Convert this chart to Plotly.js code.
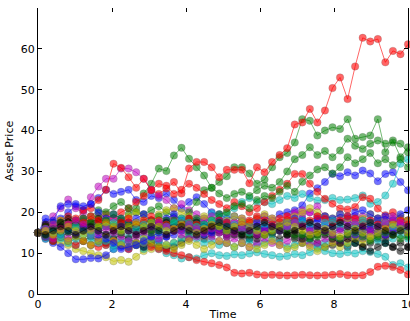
<!DOCTYPE html>
<html>
<head>
<meta charset="utf-8">
<script src="https://cdn.plot.ly/plotly-3.0.1.min.js"></script>
<style>html,body{margin:0;padding:0;background:#fff;overflow:hidden;}#chart{width:410px;height:321px;}</style>
</head>
<body>
<div id="chart"></div>
<script>
// Time grid (50 samples from 0 to 10)
const time = [0, 0.2041, 0.4082, 0.6122, 0.8163, 1.0204, 1.2245, 1.4286, 1.6327, 1.8367,
  2.0408, 2.2449, 2.4490, 2.6531, 2.8571, 3.0612, 3.2653, 3.4694, 3.6735, 3.8776,
  4.0816, 4.2857, 4.4898, 4.6939, 4.8980, 5.1020, 5.3061, 5.5102, 5.7143, 5.9184,
  6.1224, 6.3265, 6.5306, 6.7347, 6.9388, 7.1429, 7.3469, 7.5510, 7.7551, 7.9592,
  8.1633, 8.3673, 8.5714, 8.7755, 8.9796, 9.1837, 9.3878, 9.5918, 9.7959, 10];

const xTicks = [0, 2, 4, 6, 8, 10];
const yTicks = [0, 10, 20, 30, 40, 50, 60];

// Blue paths
const pathB1 = [15,17.5,16.5,18.5,20,21.5,20.5,22,23.5,25.5, 24.5,25,25.5,23,22.5,24,23.5,24.6,23,20.9, 22.5,23.7,22,20,19.5,18.5,19,18,17.5,18.5, 19,18,19.5,20,20.5,21.7,24.6,25.9,27.4,29.4, 28.8,29.8,29,30.2,29.5,27.6,29.4,29.8,27.4,25.4];
const pathB2 = [15,13.5,12.5,11.5,10,8.5,8.5,8.8,8.7,9.5, 11,11.5,11,12,11.5,12.5,13,14,14.5,15.5, 16,17,16.5,17.5,18,17,16,16.5,15.5,16, 17,16.5,17.5,18,17,18.5,17.5,18,17,16.5, 17.5,18,17,16,17,18,17.5,16.5,17,18];
const pathB3 = [15,18.5,18,21.5,22,22,21.5,22,20,18.5, 19.5,18.5,17.5,18.5,19.5,18,17,18.5,19.5,18, 17,18,16.5,17,18,17.5,16,15.5,16.5,15.5, 16,15,16.5,17.5,18.5,18,17,18.5,19,18.5, 19.5,19,20,20.5,19.5,18.5,19,18,19.5,20.5];
const pathB4 = [15,14,15.5,14.5,16,15,16.5,15.5,14.5,13.5, 12.5,11,11.5,12,13,14,15,14,15.5,16.5, 16,15.5,14.5,15,16,15.5,16,17,16.5,17.5, 16.5,16,15.5,16.5,17.5,17,16,16.5,15.5,15, 16,15,14.5,15.5,16,15,14.5,15,16,15.5];

// Green paths
const pathG1 = [15,16,15,16.5,17.5,17,18.5,17.5,19,18, 17,18,19.5,21,24.6,27,30.7,30.1,33.9,35.8, 33.1,31,29,26,27.4,28.8,31,31,29.5,27, 28,31,33.5,34.5,37.1,42.8,42.4,38.8,40,40.8, 40.4,42.8,38,38.4,38.8,42.8,34.7,37.6,33.5,35.9];
const pathG2 = [15,14,15.5,16.5,15.5,17,18,19,20.5,20, 21.5,22.5,21,20,19.5,20.5,21.5,20,19,18.5, 20,22.5,25.4,26,24.6,23.5,24.5,25,24,25.4, 26.5,26,27.4,30,33,34,35.9,34,35,33.5, 35.1,38,36.3,35.5,36.8,37.6,36.8,37.1,36.8,34.7];
const pathG3 = [15,16.5,16,17.5,16.5,18,17,15.5,16.5,18, 19.5,18.5,17,16.5,17.5,18,19,18,17.5,16.5, 17.5,18.5,17,18,19.5,20,21.5,22,21,23, 24,23.5,25,26.5,25,27.5,29,30.5,31,29.5, 31,33.5,32,33,34.5,32,33,31.5,33,31];
const pathG4 = [15,14.5,16,15,16.5,17.5,18.5,17.5,16.5,17, 16,15,16,17,16,15,16,17,18,17.5, 18,17,16,17,16.5,15.5,16,15,14.5,15.5, 14.5,15,16,15,14,14.5,13.5,14,15,14, 13.5,14.5,15,14,13,14,15,14.5,13.5,14];

// Red paths
const pathR1 = [15,16,14.5,16.5,17.5,17,16,17.5,18,19.5, 18.5,20,21,22.5,24,25.5,24.5,25.8,27.4,24.6, 30.7,32.3,32.3,31,28.6,30.4,30.4,30.4,27.1,31, 29.8,32.3,34,35.7,41.5,42,45.3,42,44.9,50.4, 53,47.7,55.7,62.7,61.8,62.4,56.7,59.5,58.7,61.1];
const pathR2 = [15,16.5,16,18,19,18,20.5,21,23,25.5, 31.9,30.9,28.6,26,28.2,25.4,27,26.5,24.5,25.5, 27,26,24.5,23,22,21,22.5,21.5,20,21, 22.5,24,25.5,27,29.4,29.4,27,25,23.3,22.1, 20.9,20.7,21.3,23.7,23.3,20.9,19.3,20,18.5,18];
const pathR3 = [15,14,13,14,13,12,13,12,11.5,12, 13,12,11,12,12.5,11.5,11,10.5,10,9.5, 9,8.3,7.9,7.5,7.1,6.5,5.2,5,5.2,4.8, 4.6,4.7,4.6,4.5,4.6,4.7,4.6,4.5,4.6,4.7, 4.9,4.6,4.5,4.6,5.4,6.7,6.9,6.6,5.9,4.8];
const pathR4 = [15,15.5,14.5,16,17,18.5,17.5,19,18,17, 16,17.5,18.5,17,18,19,18,17,16,17.5, 18.5,17,16,17,18,17.5,16.5,17,18,19, 18,17,18.5,19,18,17,18,19,18.5,17.5, 18,19,18.5,17.5,18,17,16.5,17.5,18,17];

// Cyan paths
const pathC1 = [15,14.5,15.5,16.5,15.5,14.5,15.5,16.5,15.5,14.5, 14,13,14,15,14,13.5,14.5,15.5,16.5,15.5, 16.5,17.5,18.5,19.7,19,19.5,21,22.5,23.5,22.5, 22.5,22,23,24,23.5,24.5,23.5,22.9,23,23.5, 23,23.1,23.5,24.1,22.1,22.5,24.1,27,31.9,33];
const pathC2 = [15,14,13,14,13,12,13,12,13,12, 11,12,13,12,11,12,11,10,9.5,8.7, 9,8.7,9.5,10,9.5,9.3,9.7,9.5,9.9,10.2, 9.8,9.5,9.1,9.3,9.8,9.5,10.2,11.1,10.5,10, 9.8,10.2,9.9,10.5,10.3,9.8,9.1,7.1,7.5,6.5];
const pathC3 = [15,13.5,14.5,13.5,12.5,13.5,14.5,13.5,12.5,13, 12,12.5,13,12,12.5,13.5,13,12,12.5,13.5, 14.5,13.5,12.5,13,12,12.5,11.5,12.5,13,12, 12.5,13.5,12.5,11.5,12,13,12.5,11.5,12.5,13.5, 13,12,12.5,13.5,14,13,12.5,13.5,14.5,13.5];
const pathC4 = [15,16,15,14,15.5,16.5,15.5,14.5,15.5,16.5, 17.5,16.5,15.5,16,17,16.5,15.5,16.5,17.5,18.5, 17.5,16.5,17,18,17.5,16.5,17,16,15,16, 17,16,15.5,16.5,17.5,18,17,16.5,17.5,18, 17,16,17,18,17.5,16.5,17.5,16.5,15.5,16];

// Magenta paths
const pathM1 = [15,17,19,21,23.1,21,20,23.7,26.3,28.2, 28.2,30.7,30.7,29.8,28.2,25.5,24,23,21,22, 20.5,19.5,18.5,19,18,17,17.5,18.5,17.5,18, 19,18,17,18,19.5,20.5,20,21.5,19,18, 17.5,18.5,19,18,17.5,18.5,17,16,17,18];
const pathM2 = [15,15.5,16.5,17.5,16.5,17.5,18.5,17.5,16.5,17.5, 18.5,17.5,16.5,17.5,16.5,15.5,16.5,17.5,18.5,17.5, 16.5,17,18,17,16,16.5,17.5,16.5,15.5,16.5, 17.5,18.5,17.5,19,20,19.5,20,19,18,17.5, 18.5,17.5,18.5,19,18,17,18,19,18.5,17.5];
const pathM3 = [15,14,13.5,14.5,13.5,14.5,15.5,14.5,13.5,14.5, 15,14,13,14,15,14,13.5,14.5,15.5,14.5, 13.5,14,15,14,13,12.5,13.5,12.5,11.5,12.5, 13.5,12.5,12,13,14,13,12,12.5,13.5,13, 12.5,13.5,14.5,13.5,14.5,15.5,14.5,15.5,16.5,15.5];
const pathM4 = [15,16,17,16,17,18,17,16,15,16, 15.5,16.5,15.5,14.5,15.5,16.5,17.5,16.5,15.5,16, 17,16,15,16,15,14,15,16,15.5,14.5, 15.5,16.5,15.5,16.5,17.5,16.5,15.5,16.5,15.5,14.5, 15.5,16.5,17.5,16.5,15.5,16.5,17.5,18.5,17.5,16.5];

// Yellow paths
const pathY1 = [15,14,13,12.5,12,11,10.5,10,9.5,9, 8,8.3,7.9,9.1,10.5,11,12,11.5,12.5,13.5, 14.5,15.5,15,16,17,16.5,15.5,16.5,17.5,16.5, 15.5,16,17,16,15,16,15.5,14.5,15.5,16.5, 16,15,16,17,16,15,14.5,15.5,16.5,15.5];
const pathY2 = [15,16,17,18,17,16,17,18,19,18, 17,18,19,20,19,18,19.5,20.5,21,20, 19,18,19,18,17,18,19,18.5,17.5,18.5, 19.5,18.5,17.5,18,19,20,21,20,19,18.5, 19.5,18.5,17.5,18.5,19.5,18.5,17.5,18,19,18];
const pathY3 = [15,14,15,14,13,14,13,12,13,14, 13,12,11.5,12.5,13.5,12.5,11.5,12,11,12, 13,12,11,12,13,12.5,11.5,12.5,11.5,11, 12,13,12,11,11.5,12.5,11.5,10.5,11.5,12.5, 11.5,12.5,13.5,12.5,13.5,14.5,15.5,14.5,15.5,16.5];
const pathY4 = [15,15.5,14.5,15.5,16.5,15.5,14.5,15.5,16.5,17.5, 16.5,15.5,16.5,17.5,16.5,17.5,16.5,15.5,16,17, 16,15,16,17,16.5,15.5,16.5,17.5,16.5,15.5, 14.5,15.5,16.5,17.5,16.5,15.5,14.5,15,16,15, 14,15,16,15,14,15,16,17,16,15];

// Black paths
const pathK1 = [15,16.5,17.5,16.5,17.5,16.5,15.5,16.5,17.5,16.5, 15.5,16.5,17.5,16.5,15.5,16.5,17.5,18,17,16, 15,16,17,16,15,14,15,14,13.5,14.5, 15.5,14.5,13.5,14.5,13.5,12.5,13.5,12.5,11.5,12, 12.5,11.5,12.5,11.5,12.5,13.5,12.5,11.5,12.5,11.5];
const pathK2 = [15,14,13,14,15,14,13,14,13,12.5, 13.5,14.5,13.5,12.5,11.5,12.5,11.5,11,11.5,12.5, 13.5,14.5,13.5,14.5,15.5,14.5,15.5,14.5,13.5,14.5, 15.5,16.5,15.5,14.5,15.5,14.5,13.5,14.5,15.5,14.5, 13.5,14.5,13.5,14.5,15.5,14.5,13.5,14.5,15.5,14.5];
const pathK3 = [15,17,16,17.5,18.5,17.5,16.5,17.5,18.5,17.5, 16.5,17.5,16.5,15.5,16.5,15.5,16.5,17.5,16.5,17.5, 18.5,17.5,16.5,15.5,16.5,15.5,14.5,15.5,14.5,13.5, 14.5,15.5,16.5,15.5,14.5,13.5,14.5,15.5,14.5,13.5, 12.5,13.5,12.5,11.5,10.5,11.5,12.5,11.5,10.5,11.5];
const pathK4 = [15,14.5,15.5,16.5,15.5,14.5,15.5,16.5,15.5,14.5, 15.5,16.5,15.5,14.5,15.5,16.5,15.5,14.5,15.5,16.5, 15.5,14.5,15.5,16.5,17.5,16.5,15.5,14.5,15.5,16.5, 17.5,16.5,15.5,14.5,15.5,16.5,17.5,16.5,15.5,16.5, 17.5,16.5,15.5,16.5,17.5,16.5,15.5,14.5,15.5,16.5];

const seriesOrder = [
  pathB1, pathG1, pathR1, pathC1, pathM1, pathY1, pathK1,
  pathB2, pathG2, pathR2, pathC2, pathM2, pathY2, pathK2,
  pathB3, pathG3, pathR3, pathC3, pathM3, pathY3, pathK3,
  pathB4, pathG4, pathR4, pathC4, pathM4, pathY4, pathK4
];
const colorCycle = ['rgba(0,0,255,0.55)', 'rgba(0,128,0,0.55)', 'rgba(255,0,0,0.6)',
  'rgba(0,191,191,0.55)', 'rgba(191,0,191,0.55)', 'rgba(191,191,0,0.55)', 'rgba(0,0,0,0.55)'];

const traces = seriesOrder.map((vals, i) => ({
  x: time, y: vals, type: 'scatter', mode: 'lines+markers',
  line: {color: colorCycle[i % 7], width: 1},
  marker: {color: colorCycle[i % 7], size: 7.5, line: {color: 'rgba(90,90,90,0.35)', width: 0.6}},
  showlegend: false, hoverinfo: 'skip', cliponaxis: false
}));

const font = {family: 'DejaVu Sans, sans-serif', size: 11, color: '#000'};
const layout = {
  width: 410, height: 321,
  margin: {l: 38, r: 2, t: 8, b: 27},
  paper_bgcolor: '#fff', plot_bgcolor: '#fff',
  font: font,
  xaxis: {range: [0, 10], tickvals: xTicks, ticks: 'inside', ticklen: 4, tickcolor: '#000',
    showline: true, linecolor: '#000', linewidth: 1, mirror: false, showgrid: false, zeroline: false,
    ticklabeloverflow: 'allow',
    title: {text: 'Time', font: font, standoff: 2}, tickfont: font},
  xaxis2: {range: [0, 10], overlaying: 'x', side: 'top', tickvals: xTicks, ticks: 'inside', ticklen: 4,
    tickcolor: '#000', showticklabels: false, showline: false, showgrid: false, zeroline: false, matches: 'x'},
  yaxis: {range: [0, 70], tickvals: yTicks, ticks: 'inside', ticklen: 4, tickcolor: '#000',
    showline: true, linecolor: '#000', linewidth: 1, mirror: 'ticks', showgrid: false, zeroline: false,
    title: {text: 'Asset Price', font: font, standoff: 4}, tickfont: font}
};
// invisible trace to activate the top tick axis
traces.push({x: [0], y: [0], xaxis: 'x2', yaxis: 'y', mode: 'markers', marker: {opacity: 0}, showlegend: false, hoverinfo: 'skip'});

Plotly.newPlot('chart', traces, layout, {staticPlot: true, displayModeBar: false});
</script>
</body>
</html>
